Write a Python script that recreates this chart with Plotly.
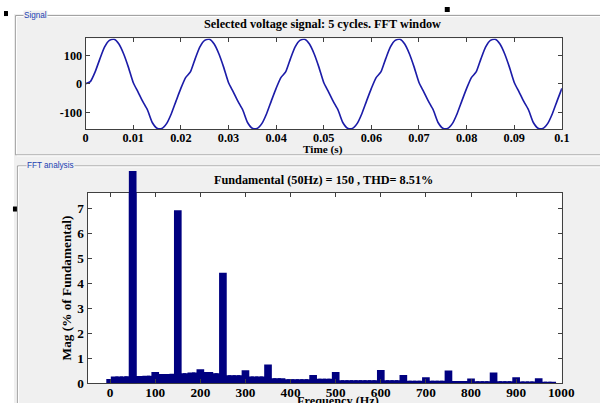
import plotly.graph_objects as go

# reference picture size, and a small compensation for the capture zoom
W_REF, H_REF = 600, 403
S = 1.0215
W, H = round(W_REF * S), round(H_REF * S)

# ---------------- data ----------------
time_ms = list(range(0, 101))
voltage = [
    0, 8, 42, 88, 130, 153, 157, 140, 105, 58, 5, -28, -62, -92, -136, -156, -157, -140, -105, -60,
    -16, 22, 42, 88, 130, 153, 157, 140, 105, 58, 5, -28, -62, -92, -136, -156, -157, -140, -105, -60,
    -16, 22, 42, 88, 130, 153, 157, 140, 105, 58, 5, -28, -62, -92, -136, -156, -157, -140, -105, -60,
    -16, 22, 42, 88, 130, 153, 157, 140, 105, 58, 5, -28, -62, -92, -136, -156, -157, -140, -105, -60,
    -16, 22, 42, 88, 130, 153, 157, 140, 105, 58, 5, -28, -62, -92, -136, -156, -157, -140, -105, -60,
    -16,
]
time_s = [t / 1000 for t in time_ms]

# FFT magnitudes (% of fundamental), 10 Hz bins
freqs = list(range(0, 990, 10))
mags = [
    0.17, 0.27, 0.27, 0.27, 0.28, 100, 0.29, 0.29, 0.30, 0.30,   # 0-90
    0.45, 0.37, 0.37, 0.37, 0.38, 6.93, 0.40, 0.40, 0.43, 0.43,  # 100-190
    0.56, 0.45, 0.45, 0.40, 0.40, 4.43, 0.32, 0.32, 0.32, 0.32,  # 200-290
    0.52, 0.27, 0.27, 0.27, 0.27, 0.75, 0.20, 0.20, 0.20, 0.16,  # 300-390
    0.16, 0.16, 0.16, 0.16, 0.16, 0.33, 0.18, 0.18, 0.18, 0.18,  # 400-490
    0.45, 0.12, 0.12, 0.12, 0.12, 0.12, 0.12, 0.12, 0.12, 0.12,  # 500-590
    0.53, 0.12, 0.12, 0.12, 0.12, 0.33, 0.10, 0.10, 0.10, 0.10,  # 600-690
    0.24, 0.10, 0.10, 0.10, 0.10, 0.51, 0.09, 0.09, 0.09, 0.09,  # 700-790
    0.19, 0.08, 0.08, 0.08, 0.08, 0.43, 0.08, 0.08, 0.08, 0.08,  # 800-890
    0.24, 0.07, 0.07, 0.07, 0.07, 0.20, 0.06, 0.06, 0.06,        # 900-980
]
fundamental_freq = [50]
fundamental_mag = [100]

top_ticks = [0, 0.01, 0.02, 0.03, 0.04, 0.05, 0.06, 0.07, 0.08, 0.09, 0.1]
top_tick_labels = ["0", "0.01", "0.02", "0.03", "0.04", "0.05", "0.06", "0.07", "0.08", "0.09", "0.1"]
top_yticks = [-100, 0, 100]
top_ytick_labels = ["-100", "0", "100"]
fft_xticks = [0, 100, 200, 300, 400, 500, 600, 700, 800, 900, 1000]
fft_yticks = [0, 1, 2, 3, 4, 5, 6, 7]

title_top = "Selected voltage signal: 5 cycles. FFT window"
title_fft = "Fundamental (50Hz) = 150 , THD= 8.51%"

# ---------------- helpers (layout positions, in reference pixels) ----------------
def px(x):
    return x / W_REF

def py(y):
    return 1 - y / H_REF

def fs(size):
    return size * S

SERIF = "Liberation Serif, Times New Roman, serif"
SANS = "Liberation Sans, Arial, sans-serif"
BG = "#f0f0f0"
ETCH = "#a0a0a0"

fig = go.Figure()

fig.add_trace(go.Scatter(
    x=time_s, y=voltage, mode="lines",
    line=dict(color="#1c1ca8", width=1.6 * S, shape="spline", smoothing=0.6),
    xaxis="x", yaxis="y", hoverinfo="skip", showlegend=False))

fig.add_trace(go.Bar(
    x=freqs, y=mags, width=17, marker=dict(color="#000080", line=dict(width=0)),
    xaxis="x2", yaxis="y2", showlegend=False))

fig.add_trace(go.Bar(
    x=fundamental_freq, y=fundamental_mag, width=17, marker=dict(color="#000080", line=dict(width=0)),
    xaxis="x3", yaxis="y3", showlegend=False))

tickfont_top = dict(family=SERIF, size=fs(12), color="black", weight="bold")
tickfont_bot = dict(family=SERIF, size=fs(13), color="black", weight="bold")
axis_common = dict(showline=True, linecolor="#404040", linewidth=1, mirror="ticks",
                   ticks="inside", ticklen=4, tickcolor="#404040", showgrid=False, zeroline=False)

fig.update_layout(
    width=W, height=H,
    margin=dict(l=0, r=0, t=0, b=0),
    paper_bgcolor="white",
    plot_bgcolor="rgba(0,0,0,0)",
    barmode="overlay",
    showlegend=False,
    xaxis=dict(domain=[px(83), px(561.7)], range=[0, 0.1], tickvals=top_ticks, ticktext=top_tick_labels,
               tickfont=tickfont_top, anchor="y", ticklabelstandoff=-3, **axis_common),
    yaxis=dict(domain=[py(129), py(38.3)], range=[-160, 160], tickvals=top_yticks, ticktext=top_ytick_labels,
               tickfont=tickfont_top, anchor="x", **axis_common),
    xaxis2=dict(domain=[px(85), px(561.5)], range=[-50, 1001], tickvals=fft_xticks,
                tickfont=tickfont_bot, anchor="y2", ticklabelstandoff=-3, **axis_common),
    yaxis2=dict(domain=[py(382.3), py(192.3)], range=[0, 7.63], tickvals=fft_yticks,
                tickfont=tickfont_bot, anchor="x2", **axis_common),
    xaxis3=dict(domain=[px(85), px(561.5)], range=[-50, 1001], visible=False, anchor="y3"),
    yaxis3=dict(domain=[py(382.3), py(170.7)], range=[0, 7.63 * (382.3 - 170.7) / (382.3 - 192.3)],
                visible=False, anchor="x3"),
)

def hline(x0, x1, y, color):
    return dict(type="line", xref="paper", yref="paper", x0=px(x0), x1=px(x1), y0=py(y), y1=py(y),
                line=dict(color=color, width=1), layer="below")

def vline(x, y0, y1, color):
    return dict(type="line", xref="paper", yref="paper", x0=px(x), x1=px(x), y0=py(y0), y1=py(y1),
                line=dict(color=color, width=1), layer="below")

shapes = [
    # gray panel background
    dict(type="rect", xref="paper", yref="paper", x0=px(11), x1=1, y0=0, y1=py(14),
         fillcolor=BG, line=dict(width=0), layer="below"),
    # Signal panel (etched border)
    hline(12.5, 600, 15.5, ETCH), hline(13.5, 600, 16.5, "white"),
    hline(12.5, 600, 154.5, ETCH), hline(13.5, 600, 155.5, "white"),
    vline(12.5, 15.5, 154.5, ETCH), vline(13.5, 16.5, 153.5, "white"),
    # FFT panel
    hline(14.5, 600, 165.5, ETCH), hline(15.5, 600, 166.5, "white"),
    vline(14.5, 165.5, 403, ETCH), vline(15.5, 166.5, 403, "white"),
    # white plot areas
    dict(type="rect", xref="x domain", yref="y domain", x0=0, x1=1, y0=0, y1=1,
         fillcolor="white", line=dict(width=0), layer="below"),
    dict(type="rect", xref="x2 domain", yref="y2 domain", x0=0, x1=1, y0=0, y1=1,
         fillcolor="white", line=dict(width=0), layer="below"),
    # selection handles
    dict(type="rect", xref="paper", yref="paper", x0=px(1), x1=px(5), y0=py(16), y1=py(11),
         fillcolor="black", line=dict(width=0)),
    dict(type="rect", xref="paper", yref="paper", x0=px(444), x1=px(449), y0=py(12), y1=py(7),
         fillcolor="black", line=dict(width=0)),
    dict(type="rect", xref="paper", yref="paper", x0=px(10), x1=px(14), y0=py(211), y1=py(206),
         fillcolor="black", line=dict(width=0)),
]
fig.update_layout(shapes=shapes)

annotations = [
    dict(text=title_top, x=px(321), y=py(24), xref="paper", yref="paper", showarrow=False,
         font=dict(family=SERIF, size=fs(12), color="black", weight="bold"), xanchor="center", yanchor="middle"),
    dict(text="Time (s)", x=px(322), y=py(149), xref="paper", yref="paper", showarrow=False,
         font=dict(family=SERIF, size=fs(11), color="black", weight="bold"), xanchor="center", yanchor="middle"),
    dict(text=title_fft, x=px(322), y=py(180), xref="paper", yref="paper", showarrow=False,
         font=dict(family=SERIF, size=fs(12), color="black", weight="bold"), xanchor="center", yanchor="middle"),
    dict(text="Mag (% of Fundamental)", x=px(64), y=py(287), xref="paper", yref="paper", showarrow=False,
         textangle=-90, font=dict(family=SERIF, size=fs(13), color="black", weight="bold"),
         xanchor="center", yanchor="middle"),
    dict(text="Frequency (Hz)", x=px(337), y=py(400), xref="paper", yref="paper", showarrow=False,
         font=dict(family=SERIF, size=fs(12), color="black", weight="bold"), xanchor="center", yanchor="middle"),
    dict(text="Signal", x=px(20), y=py(15.5), xref="paper", yref="paper", showarrow=False, bgcolor=BG,
         font=dict(family=SANS, size=fs(8), color="#2040b0"),
         xanchor="left", yanchor="middle", borderpad=0),
    dict(text="FFT analysis", x=px(23), y=py(165.5), xref="paper", yref="paper", showarrow=False, bgcolor=BG,
         font=dict(family=SANS, size=fs(8), color="#2040b0"),
         xanchor="left", yanchor="middle", borderpad=0),
]
fig.update_layout(annotations=annotations)

post = (
    "document.documentElement.style.margin='0';document.documentElement.style.overflow='hidden';"
    "document.body.style.margin='0';document.body.style.overflow='hidden';"
    "var gd=document.getElementById('{plot_id}');gd.style.overflow='hidden';"
)

fig.write_html("out.html", config={"displayModeBar": False}, post_script=post)
